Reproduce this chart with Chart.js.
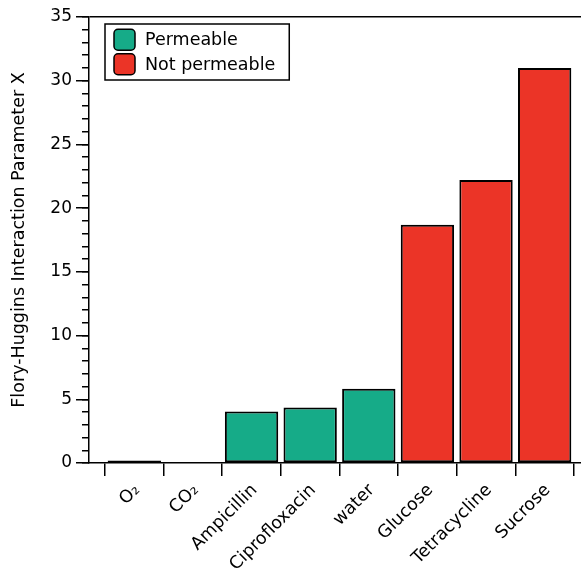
<!DOCTYPE html>
<html>
<head>
<meta charset="utf-8">
<script src="https://cdn.jsdelivr.net/npm/chart.js@4.4.1/dist/chart.umd.min.js"></script>
<style>
  html, body { margin: 0; padding: 0; background: #ffffff; }
  #wrap { width: 581px; height: 572px; position: relative; }
</style>
</head>
<body>
<div id="wrap"><canvas id="c"></canvas></div>
<script>
// ---- data ----
const categories = ['O₂', 'CO₂', 'Ampicillin', 'Ciprofloxacin', 'water', 'Glucose', 'Tetracycline', 'Sucrose'];
const chiValues = [0.2, 0.03, 4.05, 4.35, 5.82, 18.7, 22.2, 31.0];
const permeable = [true, true, true, true, true, false, false, false];
const seriesNames = ['Permeable', 'Not permeable'];
const seriesColors = ['#16ab88', '#eb3427'];
const yTickValues = [0, 5, 10, 15, 20, 25, 30, 35];
const yTitle = 'Flory-Huggins Interaction Parameter X';

const FAMILY = '"DejaVu Sans", "Liberation Sans", Arial, sans-serif';
const X_MIN = -0.773, X_MAX = 7.62;

Chart.defaults.font.family = FAMILY;
Chart.defaults.color = '#000';

const datasets = seriesNames.map((name, s) => ({
  label: name,
  data: categories
    .map((c, i) => ({ x: i, y: chiValues[i], own: permeable[i] === (s === 0) }))
    .filter(p => p.own),
  backgroundColor: seriesColors[s],
  borderColor: '#000',
  borderWidth: 2,
  borderSkipped: false,
  grouped: false,
  barPercentage: 0.91,
  categoryPercentage: 1
}));

const boxLegend = {
  id: 'boxLegend',
  afterDraw(chart) {
    const { ctx, chartArea } = chart;
    ctx.save();
    ctx.font = '17.5px ' + FAMILY;
    const items = chart.data.datasets.map(d => ({ text: d.label, fill: d.backgroundColor }));
    const x0 = chartArea.left + 16, y0 = chartArea.top + 7;
    const sw = 21, rowH = 24.5, padX = 9, padY = 3.5, gap = 10, padR = 14;
    const textW = Math.max(...items.map(it => ctx.measureText(it.text).width));
    const w = padX + sw + gap + textW + padR;
    const h = padY * 2 + rowH * items.length;
    ctx.lineWidth = 1.5;
    ctx.strokeStyle = '#000';
    ctx.strokeRect(x0, y0, w, h);
    items.forEach((it, k) => {
      const cy = y0 + padY + rowH * k + rowH / 2;
      ctx.beginPath();
      ctx.roundRect(x0 + padX, cy - sw / 2, sw, sw, 4);
      ctx.fillStyle = it.fill;
      ctx.fill();
      ctx.stroke();
      ctx.fillStyle = '#000';
      ctx.textBaseline = 'middle';
      ctx.textAlign = 'left';
      ctx.fillText(it.text, x0 + padX + sw + gap, cy + 1);
    });
    ctx.restore();
  }
};

new Chart(document.getElementById('c'), {
  type: 'bar',
  data: { datasets },
  options: {
    responsive: true,
    maintainAspectRatio: false,
    animation: false,
    layout: { padding: { top: 17, left: 0, right: 0, bottom: 0 } },
    plugins: { legend: { display: false }, tooltip: { enabled: false } },
    scales: {
      x: {
        type: 'linear',
        min: X_MIN,
        max: X_MAX,
        offset: false,
        afterBuildTicks: s => { s.ticks = categories.map((c, i) => ({ value: i })); },
        afterFit: s => { s.height = 109; },
        ticks: {
          autoSkip: false,
          maxRotation: 45,
          minRotation: 45,
          padding: 4,
          labelOffset: 3,
          color: '#000',
          font: { size: 17.5 },
          callback: (v, i) => categories[i]
        },
        grid: { offset: true, drawOnChartArea: false, drawTicks: true, tickLength: 13, color: '#000', lineWidth: 1.5 },
        border: { display: true, color: '#000', width: 1.5 }
      },
      y: {
        type: 'linear',
        position: 'left',
        min: 0,
        max: 35,
        afterBuildTicks: s => { s.ticks = yTickValues.map(v => ({ value: v })); },
        afterFit: s => { s.width = 89; },
        ticks: { color: '#000', padding: 4, font: { size: 17 } },
        grid: {
          drawOnChartArea: true,
          color: c => (c.tick && c.tick.value === 35) ? '#000' : 'rgba(0,0,0,0)',
          tickColor: '#000',
          tickLength: 13,
          lineWidth: 1.5
        },
        border: { display: true, color: '#000', width: 1.5 },
        title: {
          display: true,
          text: yTitle,
          color: '#000',
          font: { size: 17.5 },
          padding: { top: 9, bottom: 0 }
        }
      },
      yMinor: {
        type: 'linear',
        position: { x: X_MIN },
        min: 0,
        max: 35,
        afterBuildTicks: s => { s.ticks = Array.from({ length: 36 }, (_, i) => ({ value: i })); },
        ticks: { display: false },
        grid: { drawOnChartArea: false, drawTicks: true, tickLength: 7, color: '#000', lineWidth: 1.5 },
        border: { display: false }
      }
    }
  },
  plugins: [boxLegend]
});
</script>
</body>
</html>
